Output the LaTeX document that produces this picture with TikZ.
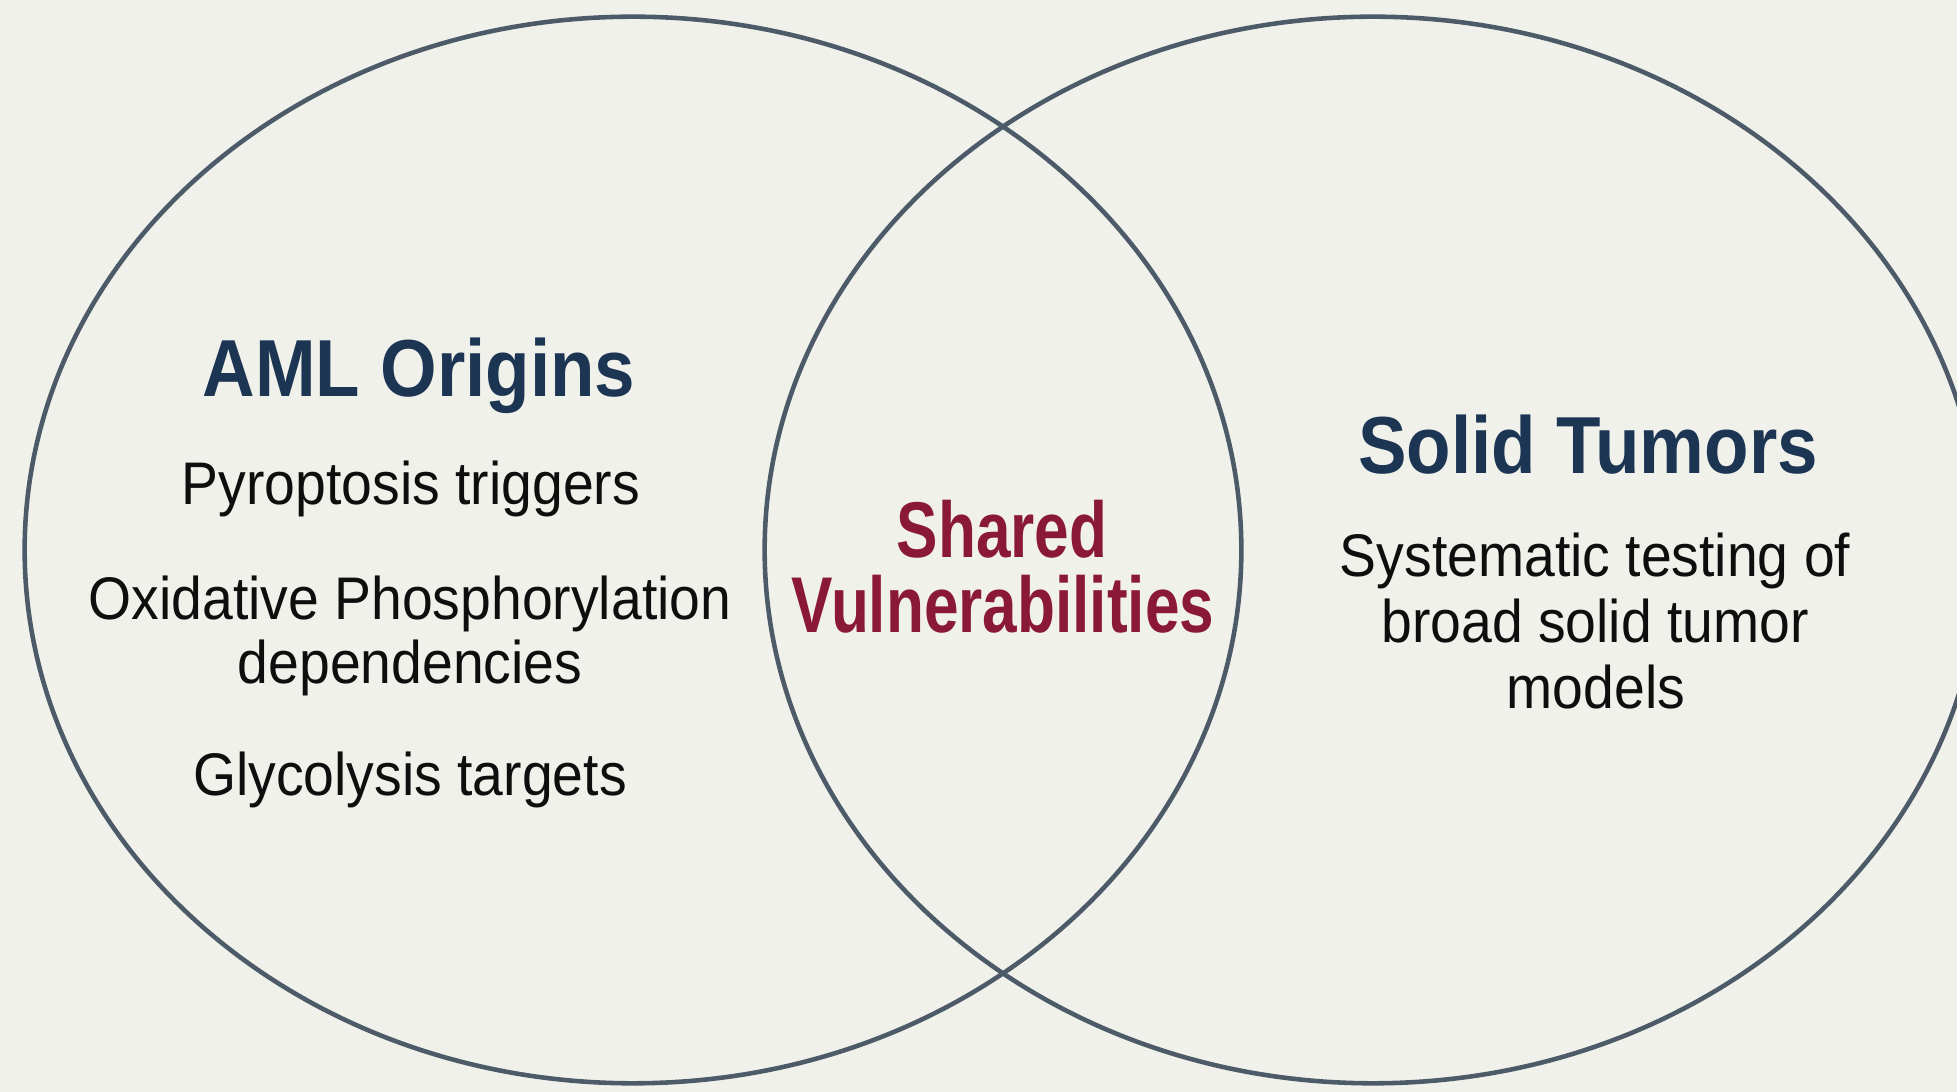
\documentclass[tikz,border=0pt]{standalone}
\usepackage{fontspec}
\setmainfont{Liberation Sans}
\newfontfamily\bodyf[FakeStretch=0.92]{Liberation Sans}
\newfontfamily\headf[FakeStretch=0.90]{Liberation Sans}
\newfontfamily\sharedf[FakeStretch=0.785]{Liberation Sans}
\definecolor{bgc}{HTML}{F1F1EC}
\definecolor{ringc}{HTML}{4D5B69}
\definecolor{navyc}{HTML}{1B3553}
\definecolor{redc}{HTML}{8A1838}
\definecolor{bodyc}{HTML}{0E0E0E}
\tikzset{
  ring/.style={draw=ringc, line width=1.3pt},
  head/.style={anchor=base, inner sep=0pt, text=navyc, font=\headf\bfseries\fontsize{23}{27}\selectfont},
  sharedtxt/.style={anchor=base, inner sep=0pt, text=redc, font=\sharedf\bfseries\fontsize{22.5}{27}\selectfont},
  item/.style={anchor=base, inner sep=0pt, text=bodyc, font=\bodyf\fontsize{17.1}{20}\selectfont}
}
\begin{document}
\begin{tikzpicture}[x=0.01cm, y=-0.01cm]
\useasboundingbox (0,0) rectangle (1957,1092);
\fill[bgc] (0,0) rectangle (1957,1092);
\begin{scope}
\clip (0,0) rectangle (1957,1092);
\draw[ring] (633,550) ellipse [x radius=6.08cm, y radius=5.33cm];
\draw[ring] (1373,550) ellipse [x radius=6.08cm, y radius=5.33cm];
\end{scope}
% left set
\node[head] (aml) at (419,397) {AML Origins};
\node[item] (pyro) at (411,505) {Pyroptosis triggers};
\node[item] (oxi1) at (410,620) {Oxidative Phosphorylation};
\node[item] (oxi2) at (410,684) {dependencies};
\node[item] (gly) at (410,796) {Glycolysis targets};
% intersection
\node[sharedtxt] (sh1) at (1002,558) {Shared};
\node[sharedtxt] (sh2) at (1003,633) {Vulnerabilities};
% right set
\node[head] (solid) at (1588,474) {Solid Tumors};
\node[item] (sys1) at (1595,577) {Systematic testing of};
\node[item] (sys2) at (1595,643) {broad solid tumor};
\node[item] (sys3) at (1596,709) {models};
\end{tikzpicture}
\end{document}
